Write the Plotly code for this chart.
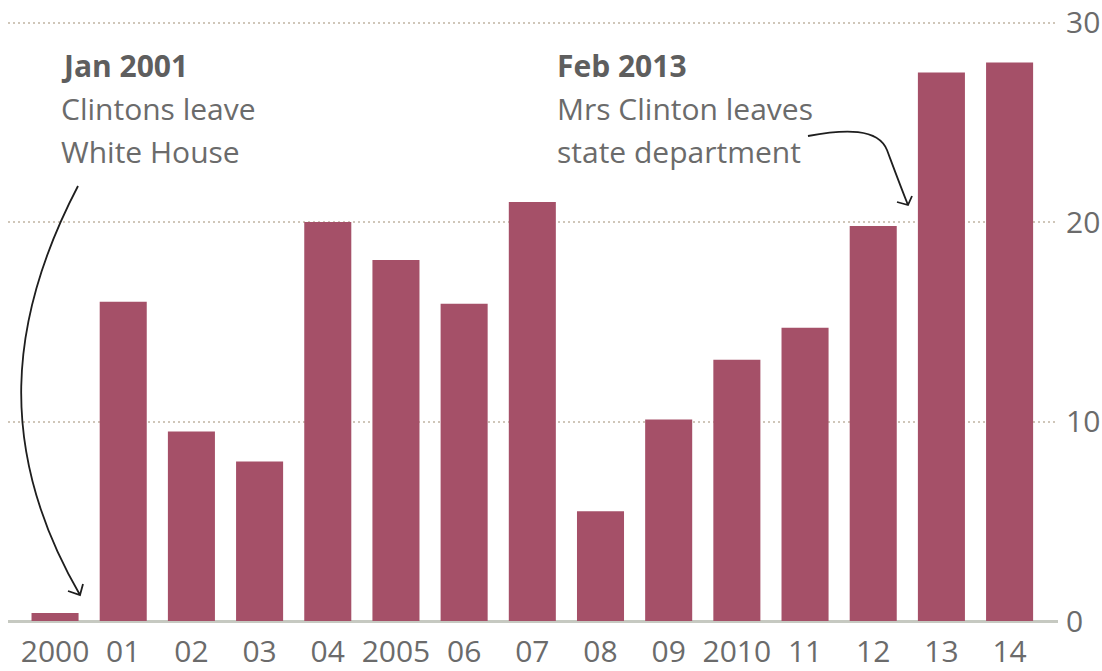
import plotly.graph_objects as go

# ---- data ----
years = ["2000", "01", "02", "03", "04", "2005", "06", "07",
         "08", "09", "2010", "11", "12", "13", "14"]
values = [0.4, 16.0, 9.5, 8.0, 20.0, 18.1, 15.9, 21.0,
          5.5, 10.1, 13.1, 14.7, 19.8, 27.5, 28.0]
y_ticks = [0, 10, 20, 30]

# ---- layout geometry (pixels) ----
W, H = 1102, 671
ML, MR, MT, MB = 8, 44, 21, 50
PW, PH = W - ML - MR, H - MT - MB

def px(x):
    return (x - ML) / PW

def py(y):
    return (H - MB - y) / PH

FONT = "Open Sans"
BAR = "#a55068"
TXT = "#6b6b6b"

fig = go.Figure()
fig.add_trace(go.Bar(
    x=list(range(len(years))), y=values,
    marker=dict(color=BAR, line=dict(width=0)),
    hoverinfo="skip",
))

fig.update_layout(
    width=W, height=H,
    margin=dict(l=ML, r=MR, t=MT, b=MB, pad=0, autoexpand=False),
    paper_bgcolor="white", plot_bgcolor="white",
    bargap=0.31,
    showlegend=False,
    font=dict(family=FONT, color=TXT, size=28),
    xaxis=dict(
        range=[-0.69, 14.71], automargin=False,
        tickmode="array", tickvals=list(range(len(years))), ticktext=years,
        showgrid=False, zeroline=False, showline=False, ticks="",
        tickfont=dict(size=30, color=TXT, family=FONT),
        ticklabelstandoff=10,
        fixedrange=True,
    ),
    yaxis=dict(
        range=[0, 30.08], side="right", automargin=False,
        tickmode="array", tickvals=y_ticks,
        showgrid=True, gridcolor="#cfc6b9", gridwidth=2, griddash="2px,3px",
        zeroline=True, zerolinecolor="#c6c9c1", zerolinewidth=3,
        showline=False, ticks="",
        tickfont=dict(size=30, color=TXT, family=FONT),
        ticklabelstandoff=7,
        fixedrange=True,
    ),
)

# ---- annotation texts ----
def note(x, y, text, bold=False):
    fig.add_annotation(
        x=px(x), y=py(y), xref="paper", yref="paper",
        xanchor="left", yanchor="middle", showarrow=False,
        text=f"<b>{text}</b>" if bold else text,
        font=dict(family=FONT, size=30, color="#5e5e5e" if bold else TXT),
    )

note(59, 66, "Jan 2001", bold=True)
note(59, 108, "Clintons leave")
note(59, 151, "White House")
note(555, 66, "Feb 2013", bold=True)
note(555, 108, "Mrs Clinton leaves")
note(555, 151, "state department")

# ---- curved arrows (paper coordinates) ----
def path(points_cmds):
    out = []
    for cmd, pts in points_cmds:
        coords = " ".join(f"{px(a):.5f},{py(b):.5f}" for a, b in pts)
        out.append(f"{cmd} {coords}")
    return " ".join(out)

arrow1 = path([
    ("M", [(78, 186)]),
    ("C", [(8, 320), (-4, 450), (80, 595)]),
    ("M", [(68, 591)]), ("L", [(80, 595)]), ("L", [(83, 584)]),
])
arrow2 = path([
    ("M", [(808, 136)]),
    ("C", [(845, 129), (878, 128), (887, 150)]),
    ("C", [(893, 166), (900, 185), (908, 205)]),
    ("M", [(897, 202)]), ("L", [(908, 205)]), ("L", [(912, 196)]),
])
for p in (arrow1, arrow2):
    fig.add_shape(type="path", path=p, xref="paper", yref="paper",
                  line=dict(color="#1e1e1e", width=1.8), fillcolor="rgba(0,0,0,0)")

fig.write_html("out.html", config={"displayModeBar": False},
               post_script="document.body.style.margin='0';document.body.style.padding='0';")
